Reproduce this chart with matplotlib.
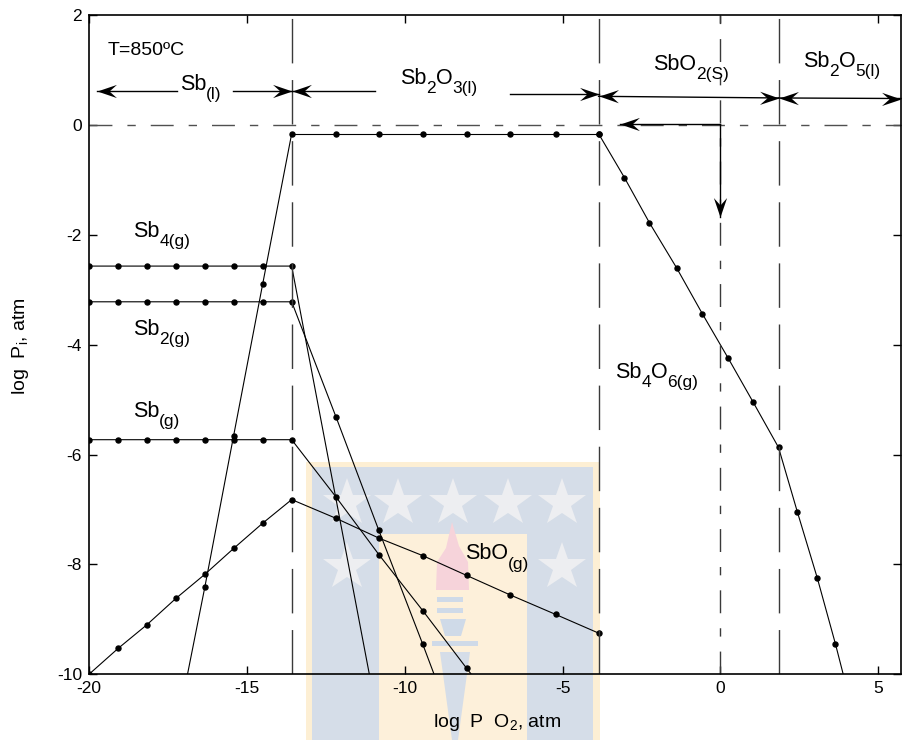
import numpy as np
import matplotlib
matplotlib.use('Agg')
import matplotlib.pyplot as plt
from matplotlib.path import Path
from matplotlib.markers import MarkerStyle
from matplotlib.transforms import Affine2D
from matplotlib.patches import Polygon
from matplotlib.lines import Line2D

plt.rcParams['font.family'] = ['Liberation Sans', 'DejaVu Sans']
plt.rcParams['mathtext.fontset'] = 'custom'
plt.rcParams['mathtext.rm'] = 'Liberation Sans'
plt.rcParams['mathtext.it'] = 'Liberation Sans:italic'
plt.rcParams['mathtext.bf'] = 'Liberation Sans:bold'

# ---------------- data (log P O2 vs log Pi) ----------------
x_left = [-20.0, -19.08, -18.17, -17.25, -16.33, -15.42, -14.50, -13.58]

sb4_x = x_left + [-11.12]
sb4_y = [-2.57, -2.57, -2.57, -2.57, -2.57, -2.57, -2.57, -2.57, -10.0]

sb2_x = x_left + [-12.18, -10.82, -9.43, -9.07]
sb2_y = [-3.22, -3.22, -3.22, -3.22, -3.22, -3.22, -3.22, -3.22, -5.31, -7.38, -9.45, -10.0]

sb_x = x_left + [-12.18, -10.82, -9.43, -8.04, -7.89]
sb_y = [-5.73, -5.73, -5.73, -5.73, -5.73, -5.73, -5.73, -5.73, -6.77, -7.82, -8.84, -9.89, -10.0]

sbo_x = x_left + [-12.18, -10.82, -9.43, -8.04, -6.68, -5.22, -3.86]
sbo_y = [-10.0, -9.53, -9.10, -8.62, -8.18, -7.71, -7.25, -6.82,
         -7.16, -7.52, -7.84, -8.20, -8.55, -8.91, -9.25]

liq_x = [-16.88, -16.33, -15.42, -14.50, -13.58]
liq_y = [-10.0, -8.41, -5.66, -2.90, -0.16]

sb2o3_x = [-13.58, -12.18, -10.82, -9.43, -8.04, -6.68, -5.22, -3.86]
sb2o3_y = [-0.16, -0.16, -0.16, -0.16, -0.16, -0.16, -0.16, -0.16]

sb4o6_x = [-3.86, -3.04, -2.25, -1.39, -0.57, 0.25, 1.04, 1.84, 2.44, 3.07, 3.64, 3.89]
sb4o6_y = [-0.16, -0.96, -1.78, -2.60, -3.44, -4.25, -5.05, -5.87, -7.05, -8.25, -9.44, -10.0]

phase_bounds = [-13.58, -3.86, 1.84]
x_ticks = [-20, -15, -10, -5, 0, 5]
y_ticks = [-10, -8, -6, -4, -2, 0, 2]

# ---------------- figure ----------------
W, H = 902, 740
fig = plt.figure(figsize=(W / 100, H / 100), dpi=100, facecolor='white')


def P(x, y):
    return (x / W, 1 - y / H)


# faint watermark (shield) behind the plot
def poly(pts, color):
    fig.add_artist(Polygon([P(*p) for p in pts], closed=True, facecolor=color,
                           edgecolor='none', transform=fig.transFigure, zorder=-2))


poly([(306, 462), (600, 462), (600, 740), (306, 740)], '#FDEFD4')
poly([(312, 467), (593, 467), (593, 740), (312, 740)], '#D5DDE8')
poly([(379, 534), (527, 534), (527, 740), (379, 740)], '#FDF0DA')
for sx, sy in [(347, 503), (398, 503), (453, 503), (508, 503), (562, 503), (347, 567), (562, 567)]:
    fig.add_artist(Line2D([sx / W], [1 - sy / H], marker='*', ms=36, color='#EDEEF1',
                          mew=0, transform=fig.transFigure, zorder=-1.5))
poly([(436, 590), (437, 562), (446, 548), (452, 522), (459, 546), (468, 562), (469, 590)], '#F6D3DA')
poly([(437, 597), (463, 597), (463, 602), (437, 602)], '#CFDAE8')
poly([(437, 608), (463, 608), (463, 613), (437, 613)], '#CFDAE8')
poly([(440, 619), (466, 619), (461, 636), (445, 636)], '#CFDAE8')
poly([(432, 641), (478, 641), (478, 646), (432, 646)], '#CFDAE8')
poly([(440, 652), (470, 652), (458, 740), (452, 740)], '#D5DDE8')

ax = fig.add_axes([89 / W, (H - 674.3) / H, (901 - 89) / W, (674.3 - 15) / H])
ax.set_facecolor('none')
ax.set_xlim(-20, 5.72)
ax.set_ylim(-10, 2)

lc = 'black'
mk = dict(marker='o', ms=3.6, mfc=lc, mec=lc)

ax.plot(sb4_x, sb4_y, color=lc, lw=0.8, markevery=list(range(8)), **mk)
ax.plot(sb2_x, sb2_y, color=lc, lw=0.8, markevery=list(range(11)), **mk)
ax.plot(sb_x, sb_y, color=lc, lw=0.8, markevery=list(range(12)), **mk)
ax.plot(sbo_x, sbo_y, color=lc, lw=0.8, **mk)
ax.plot(liq_x, liq_y, color=lc, lw=0.8, markevery=[1, 2, 3], **mk)
ax.plot(sb2o3_x, sb2o3_y, color=lc, lw=0.8, **mk)
ax.plot(sb4o6_x, sb4o6_y, color=lc, lw=0.8, markevery=list(range(11)), **mk)

dc = '#3a3a3a'
for xb in phase_bounds:
    ax.axvline(xb, color=dc, lw=1.0, ls=(0, (32, 12)))
ax.axvline(0, color=dc, lw=1.0, ls=(0, (16.5, 10.8, 6, 10.8)))
ax.axhline(0, color='#505050', lw=1.0, ls=(0, (16.5, 10.8, 6, 10.8)))

# arrows
head = Path([(0, 0), (-1, 0.34), (-0.62, 0), (-1, -0.34), (0, 0)],
            [Path.MOVETO, Path.LINETO, Path.LINETO, Path.LINETO, Path.CLOSEPOLY])


def arrow(tail, tip, line=True):
    if line:
        ax.plot([tail[0], tip[0]], [tail[1], tip[1]], color='black', lw=1.0, clip_on=False)
    a = ax.transData.transform(tail)
    b = ax.transData.transform(tip)
    ang = np.degrees(np.arctan2(b[1] - a[1], b[0] - a[0]))
    ax.plot([tip[0]], [tip[1]], linestyle='none',
            marker=MarkerStyle(head, transform=Affine2D().rotate_deg(ang)),
            ms=28, color='black', mew=0, clip_on=False, zorder=5)


arrow((-17.2, 0.61), (-19.74, 0.61))
arrow((-15.44, 0.61), (-13.58, 0.61))
arrow((-10.94, 0.61), (-13.58, 0.61))
arrow((-6.67, 0.56), (-3.86, 0.56))
arrow((1.84, 0.49), (-3.86, 0.52))
arrow((-3.86, 0.52), (1.84, 0.49), line=False)
arrow((5.72, 0.48), (1.84, 0.49))
arrow((1.84, 0.49), (5.72, 0.48), line=False)
arrow((0.0, 0.02), (-3.18, 0.02))
arrow((0.0, 0.02), (0.0, -1.68))

# labels with subscripts
renderer = fig.canvas.get_renderer()


def chem(x, y, parts, fs=15.5):
    dx = 0.0
    for s, sub in parts:
        size = fs * 0.8 if sub else fs
        dy = -fs * 0.42 if sub else 0.0
        t = ax.annotate(s, xy=(x, y), xycoords='data', xytext=(dx, dy),
                        textcoords='offset points', fontsize=size, ha='left',
                        va='baseline', annotation_clip=False)
        dx += t.get_window_extent(renderer).width * 72.0 / fig.dpi


chem(-18.61, -2.04, [('Sb', 0), ('4(g)', 1)])
chem(-18.61, -3.83, [('Sb', 0), ('2(g)', 1)])
chem(-18.61, -5.32, [('Sb', 0), ('(g)', 1)])
chem(-8.09, -7.91, [('SbO', 0), ('(g)', 1)])
chem(-3.34, -4.61, [('Sb', 0), ('4', 1), ('O', 0), ('6(g)', 1)])
chem(-17.12, 0.64, [('Sb', 0), ('(l)', 1)])
chem(-10.15, 0.75, [('Sb', 0), ('2', 1), ('O', 0), ('3(l)', 1)])
chem(-2.13, 1.00, [('SbO', 0), ('2(S)', 1)])
chem(2.62, 1.06, [('Sb', 0), ('2', 1), ('O', 0), ('5(l)', 1)])

ax.text(-19.4, 1.28, 'T=850ºC', fontsize=14, ha='left', va='baseline')

# axes styling
for sp in ax.spines.values():
    sp.set_linewidth(1.2)
ax.set_xticks(x_ticks)
ax.set_yticks(y_ticks)
ax.set_xticklabels([str(v) for v in x_ticks])
ax.set_yticklabels([str(v) for v in y_ticks])
ax.tick_params(direction='in', length=5.5, width=1, top=True, right=True,
               labelsize=12.5, pad=5)

fig.text(497 / W, 1 - 727 / H, r'log  P  $\mathregular{O_2}$, atm', fontsize=14,
         ha='center', va='baseline')
fig.text(25 / W, 1 - 346 / H, r'log  $\mathregular{P_i}$, atm', fontsize=14,
         ha='center', va='baseline', rotation=90, rotation_mode='anchor')

fig.savefig('out.png', dpi=100, facecolor='white')
